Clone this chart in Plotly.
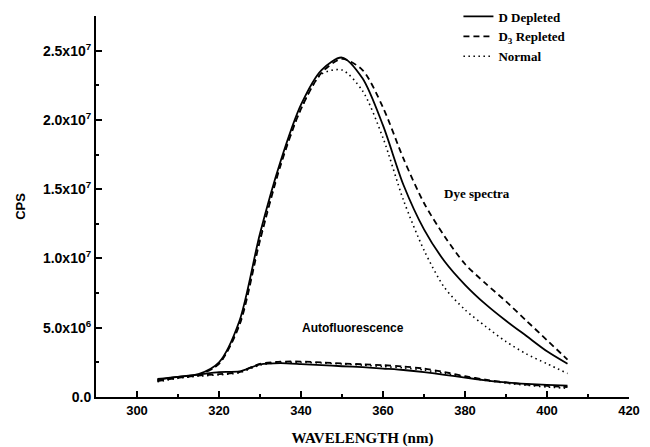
import plotly.graph_objects as go

# wavelengths (nm)
wl = [305, 310, 315, 320, 325, 330, 335, 340, 345, 350, 355, 360, 365, 370, 375, 380, 385, 390, 395, 400, 405]

# Dye spectra (CPS, x1e6)
dye_depleted = [1.30, 1.45, 1.65, 2.5, 5.5, 11.8, 17.0, 21.1, 23.6, 24.5, 23.0, 19.6, 15.3, 12.1, 9.8, 8.1, 6.7, 5.5, 4.4, 3.3, 2.4]
dye_repleted = [1.20, 1.40, 1.60, 2.4, 5.2, 11.3, 16.7, 20.8, 23.4, 24.4, 23.6, 20.9, 17.2, 14.0, 11.6, 9.6, 8.2, 6.9, 5.5, 4.1, 2.7]
dye_normal = [1.20, 1.40, 1.60, 2.4, 5.3, 11.4, 16.8, 20.8, 23.3, 23.6, 22.1, 18.7, 14.2, 10.6, 7.9, 6.3, 5.1, 4.0, 3.1, 2.4, 1.7]

# Autofluorescence (CPS, x1e6)
auto_depleted = [1.25, 1.45, 1.62, 1.80, 1.85, 2.35, 2.45, 2.38, 2.30, 2.22, 2.15, 2.05, 1.95, 1.80, 1.60, 1.40, 1.20, 1.05, 0.95, 0.88, 0.82]
auto_repleted = [1.15, 1.40, 1.55, 1.65, 1.80, 2.40, 2.55, 2.56, 2.50, 2.42, 2.36, 2.30, 2.20, 2.05, 1.80, 1.50, 1.25, 1.05, 0.90, 0.80, 0.72]
auto_normal = [1.10, 1.35, 1.50, 1.60, 1.75, 2.30, 2.50, 2.50, 2.45, 2.38, 2.30, 2.20, 2.10, 1.95, 1.70, 1.45, 1.20, 1.00, 0.85, 0.72, 0.63]

series_names = ["D Depleted", "D<sub>3</sub> Repleted", "Normal"]

y_tickvals = [0, 5e6, 1e7, 1.5e7, 2e7, 2.5e7]
y_ticktext = ["0.0", "5.0x10<sup>6</sup>", "1.0x10<sup>7</sup>", "1.5x10<sup>7</sup>",
              "2.0x10<sup>7</sup>", "2.5x10<sup>7</sup>"]
x_tickvals = [300, 320, 340, 360, 380, 400, 420]

scale = 1e6
dashes = ["solid", "6px,4px", "1.5px,3.5px"]
widths = [1.8, 1.8, 1.6]

fig = go.Figure()
for name, d, w, ys in zip(series_names, dashes, widths, [dye_depleted, dye_repleted, dye_normal]):
    fig.add_trace(go.Scatter(x=wl, y=[v * scale for v in ys], mode="lines", name=name,
                             line=dict(color="black", width=w, dash=d, shape="spline", smoothing=0.8),
                             legendgroup=name))
for name, d, w, ys in zip(series_names, dashes, widths, [auto_depleted, auto_repleted, auto_normal]):
    fig.add_trace(go.Scatter(x=wl, y=[v * scale for v in ys], mode="lines", name=name,
                             line=dict(color="black", width=w, dash=d, shape="spline", smoothing=0.6),
                             legendgroup=name, showlegend=False))

fig.add_annotation(x=383, y=14.7e6, text="<b>Dye spectra</b>", showarrow=False,
                   font=dict(family="Liberation Serif", size=13, color="black"))
fig.add_annotation(x=352.6, y=5.0e6, text="<b>Autofluorescence</b>", showarrow=False,
                   font=dict(family="Liberation Sans", size=12, color="black"))

fig.update_layout(
    width=650, height=447,
    margin=dict(l=88, r=29, t=8, b=58, autoexpand=False),
    paper_bgcolor="white", plot_bgcolor="white",
    showlegend=True,
    legend=dict(x=0.68, xanchor="left", y=1.038, yanchor="top",
                font=dict(family="Liberation Serif", size=13, color="black", weight="bold"),
                bgcolor="rgba(0,0,0,0)", tracegroupgap=0),
    xaxis=dict(range=[290, 420], tickvals=x_tickvals, ticks="inside", ticklen=6, tickwidth=2,
               tickcolor="black", showline=True, linecolor="black", linewidth=2,
               showgrid=False, zeroline=False,
               minor=dict(dtick=10, tick0=290, ticks="inside", ticklen=3, tickwidth=1.5, tickcolor="black"),
               tickfont=dict(family="Liberation Sans", size=13, color="black", weight="bold"),
               title=dict(text="<b>WAVELENGTH (nm)</b>", standoff=16,
                          font=dict(family="Liberation Serif", size=15, color="black"))),
    yaxis=dict(range=[0, 2.75e7], tickvals=y_tickvals, ticktext=y_ticktext, ticks="inside",
               ticklen=6, tickwidth=2, tickcolor="black", showline=True, linecolor="black",
               linewidth=2, showgrid=False, zeroline=False,
               minor=dict(dtick=2.5e6, tick0=0, ticks="inside", ticklen=3, tickwidth=1.5, tickcolor="black"),
               tickfont=dict(family="Liberation Sans", size=14, color="black", weight="bold"),
               title=dict(text="<b>CPS</b>", standoff=14,
                          font=dict(family="Liberation Sans", size=13, color="black"))),
)

fig.write_html("out.html")
